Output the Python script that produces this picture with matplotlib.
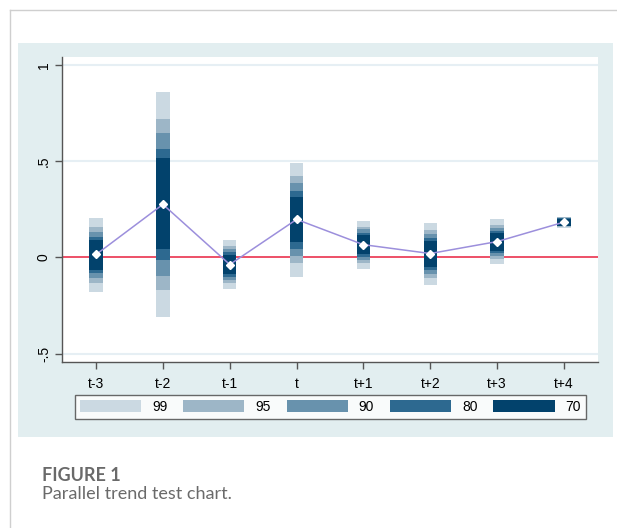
"""
Parallel trend test chart: event-study coefficients with stacked confidence bands.
"""

import matplotlib
matplotlib.use('Agg')
import matplotlib.pyplot as plt
from matplotlib.patches import Patch, Rectangle
from matplotlib.lines import Line2D

# data
periods = ['t-3', 't-2', 't-1', 't', 't+1', 't+2', 't+3', 't+4']
coef = [0.015, 0.275, -0.037, 0.197, 0.066, 0.020, 0.082, 0.183]

levels = ['99', '95', '90', '80', '70']
lo99 = [-0.178, -0.310, -0.165, -0.100, -0.060, -0.145, -0.035, 0.153]
hi99 = [0.202, 0.860, 0.091, 0.490, 0.190, 0.180, 0.197, 0.212]
lo95 = [-0.133, -0.170, -0.134, -0.030, -0.030, -0.105, -0.007, 0.158]
hi95 = [0.157, 0.720, 0.060, 0.420, 0.160, 0.140, 0.169, 0.207]
lo90 = [-0.109, -0.098, -0.119, 0.008, -0.015, -0.086, 0.007, 0.161]
hi90 = [0.133, 0.643, 0.045, 0.385, 0.145, 0.122, 0.155, 0.204]
lo80 = [-0.083, -0.015, -0.101, 0.046, 0.003, -0.063, 0.023, 0.163]
hi80 = [0.107, 0.565, 0.027, 0.342, 0.127, 0.100, 0.139, 0.202]
lo70 = [-0.065, 0.043, -0.088, 0.078, 0.015, -0.048, 0.035, 0.165]
hi70 = [0.089, 0.514, 0.014, 0.314, 0.115, 0.084, 0.127, 0.200]

bands = {
  '99': (lo99, hi99),
  '95': (lo95, hi95),
  '90': (lo90, hi90),
  '80': (lo80, hi80),
  '70': (lo70, hi70),
}
colors = {'99': '#cbd9e2', '95': '#9db6c7', '90': '#6892ad', '80': '#2d6990', '70': '#02426c'}

plt.rcParams['font.family'] = ['Liberation Sans', 'DejaVu Sans']

fig = plt.figure(figsize=(6.17, 5.28), dpi=100)
fig.patch.set_facecolor('white')

# page frame and stata graph region
fig.add_artist(Line2D([10/617, 10/617], [0, 1-10/528], color='#cfcfcf', lw=1))
fig.add_artist(Line2D([10/617, 1], [1-10/528, 1-10/528], color='#cfcfcf', lw=1))
fig.add_artist(Rectangle((18/617, 1-437/528), 595/617, 394/528, transform=fig.transFigure,
                         facecolor='#e2eef0', edgecolor='none', zorder=0))

ax = fig.add_axes([62/617, 1-362/528, 536/617, 305/528])
ax.set_facecolor('white')
x = list(range(len(periods)))

for y in [1, 0.5, -0.5]:
  ax.axhline(y, color='#e6eff4', lw=1.5, zorder=1)
ax.axhline(0, color='#e8203f', lw=1.1, zorder=2)

for lev in levels:
  lo, hi = bands[lev]
  ax.bar(x, [h-l for l, h in zip(lo, hi)], bottom=lo, width=0.2,
         color=colors[lev], linewidth=0, zorder=3)

ax.plot(x, coef, color='#9c8fdc', lw=1.1, zorder=4)
ax.plot(x, coef, linestyle='none', marker='D', markersize=4, markerfacecolor='white',
        markeredgecolor='white', zorder=5)

ax.set_xlim(-0.51, 7.51)
ax.set_ylim(-0.543, 1.04)
ax.set_xticks(x)
ax.set_xticklabels(periods)
ax.set_yticks([-0.5, 0, 0.5, 1])
ax.set_yticklabels(['-.5', '0', '.5', '1'], rotation=90, va='center')
ax.tick_params(axis='both', labelsize=10, length=5, color='#555555', width=1)
ax.tick_params(axis='x', pad=6)
ax.tick_params(axis='y', pad=3)
for side in ['top', 'right']:
  ax.spines[side].set_visible(False)
for side in ['left', 'bottom']:
  ax.spines[side].set_color('#555555')
  ax.spines[side].set_linewidth(1)

handles = [Patch(facecolor=colors[lev], edgecolor='none') for lev in levels]
leg = fig.legend(handles, levels, ncol=5, loc='center',
                 bbox_to_anchor=(75/617, 1-419/528, 511/617, 24/528), mode='expand',
                 borderaxespad=0, fancybox=False, handlelength=4.4, handleheight=0.9,
                 handletextpad=0.8, fontsize=10, borderpad=0.35)
leg.get_frame().set_edgecolor('#444444')
leg.get_frame().set_linewidth(1)

fig.text(42/617, 1-481/528, 'FIGURE 1', family='Lato', fontweight='bold', fontsize=13,
         color='#6a6a6a', va='baseline')
fig.text(42/617, 1-499/528, 'Parallel trend test chart.', family='Lato', fontsize=13,
         color='#6a6a6a', va='baseline')

fig.savefig('out.png', dpi=100)
